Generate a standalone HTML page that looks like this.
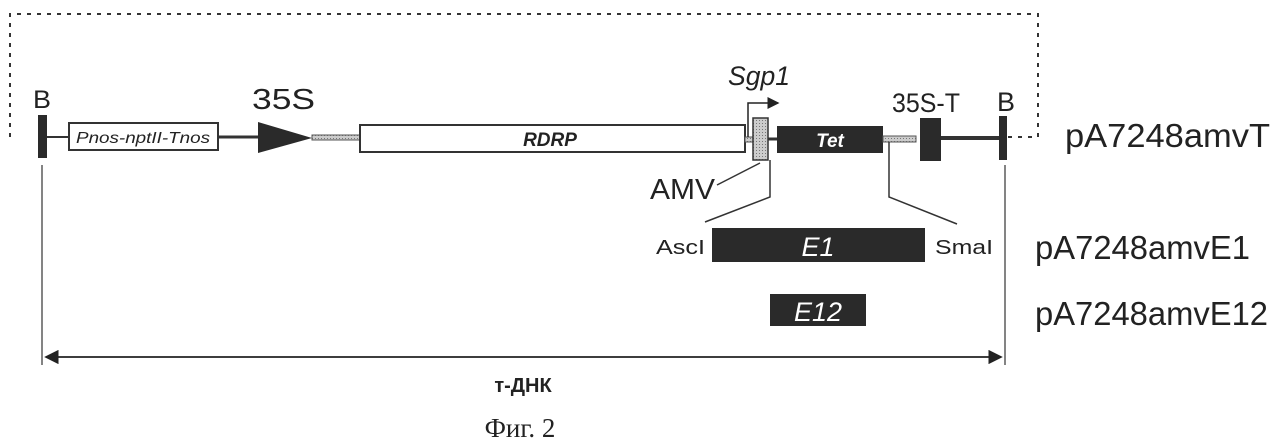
<!DOCTYPE html>
<html><head><meta charset="utf-8"><style>
html,body{margin:0;padding:0;background:#fff;}
svg{display:block;}
text{font-family:"Liberation Sans",Arial,sans-serif;fill:#222;}
</style></head><body>
<svg width="1284" height="448" viewBox="0 0 1284 448" xmlns="http://www.w3.org/2000/svg">
<defs>
<pattern id="h" width="3" height="3" patternUnits="userSpaceOnUse"><rect width="3" height="3" fill="#ccc"/><rect width="1" height="1" fill="#777"/></pattern>
<marker id="ar" markerWidth="8" markerHeight="8" refX="7" refY="4" orient="auto"><path d="M0,0 L8,4 L0,8 z" fill="#222"/></marker>
<marker id="al" markerWidth="8" markerHeight="8" refX="1" refY="4" orient="auto"><path d="M8,0 L0,4 L8,8 z" fill="#222"/></marker>
</defs>
<path d="M10,137 L10,14 L1038,14 L1038,137 L1007,137" fill="none" stroke="#333" stroke-width="2" stroke-dasharray="4,6"/>
<line x1="40" y1="137" x2="68" y2="137" stroke="#333" stroke-width="2"/>
<line x1="218" y1="137" x2="260" y2="137" stroke="#333" stroke-width="3"/>
<line x1="768" y1="139" x2="778" y2="139" stroke="#333" stroke-width="3"/>
<line x1="941" y1="138" x2="1003" y2="138" stroke="#333" stroke-width="4"/>
<rect x="38" y="115" width="9" height="43" fill="#2a2a2a"/>
<text x="33" y="108" font-size="25" textLength="18" lengthAdjust="spacingAndGlyphs">B</text>
<rect x="69" y="123" width="149" height="27" fill="#fff" stroke="#333" stroke-width="2"/>
<text x="76" y="143" font-size="16" font-style="italic" textLength="134" lengthAdjust="spacingAndGlyphs">Pnos-nptII-Tnos</text>
<path d="M258,122 L258,153 L312,138 z" fill="#2a2a2a"/>
<text x="252" y="109" font-size="29" textLength="63" lengthAdjust="spacingAndGlyphs">35S</text>
<rect x="312" y="135" width="48" height="5" fill="url(#h)" stroke="#555" stroke-width="1"/>
<rect x="360" y="125" width="385" height="27" fill="#fff" stroke="#333" stroke-width="2"/>
<text x="550" y="146" font-size="19" font-weight="bold" font-style="italic" text-anchor="middle">RDRP</text>
<rect x="745" y="137" width="9" height="5" fill="url(#h)" stroke="#555" stroke-width="1"/>
<rect x="753" y="118" width="15" height="42" fill="url(#h)" stroke="#333" stroke-width="1.5"/>
<path d="M748,137 L748,103 L778,103" fill="none" stroke="#222" stroke-width="1.5" marker-end="url(#ar)"/>
<text x="728" y="85" font-size="27" font-style="italic" textLength="62" lengthAdjust="spacingAndGlyphs">Sgp1</text>
<text x="650" y="199" font-size="29" textLength="65" lengthAdjust="spacingAndGlyphs">AMV</text>
<line x1="717" y1="185" x2="760" y2="163" stroke="#333" stroke-width="1.5"/>
<rect x="777" y="126" width="106" height="27" fill="#2a2a2a"/>
<text x="830" y="147" font-size="19" font-weight="bold" font-style="italic" text-anchor="middle" style="fill:#fff">Tet</text>
<rect x="883" y="136" width="33" height="6" fill="url(#h)" stroke="#555" stroke-width="1"/>
<rect x="920" y="118" width="21" height="43" fill="#2a2a2a"/>
<text x="892" y="112" font-size="27" textLength="68" lengthAdjust="spacingAndGlyphs">35S-T</text>
<rect x="999" y="116" width="8" height="44" fill="#2a2a2a"/>
<text x="997" y="111" font-size="27" textLength="18" lengthAdjust="spacingAndGlyphs">B</text>
<text x="1065" y="147" font-size="33" textLength="205" lengthAdjust="spacingAndGlyphs">pA7248amvT</text>
<path d="M770,160 L770,197 L705,222" fill="none" stroke="#333" stroke-width="1.5"/>
<path d="M889,142 L889,197 L957,224" fill="none" stroke="#333" stroke-width="1.5"/>
<rect x="712" y="228" width="213" height="34" fill="#2a2a2a"/>
<text x="818" y="256" font-size="27" font-style="italic" text-anchor="middle" style="fill:#fff">E1</text>
<text x="656" y="254" font-size="20" textLength="49" lengthAdjust="spacingAndGlyphs">AscI</text>
<text x="935" y="254" font-size="20" textLength="58" lengthAdjust="spacingAndGlyphs">SmaI</text>
<text x="1035" y="259" font-size="33" textLength="215" lengthAdjust="spacingAndGlyphs">pA7248amvE1</text>
<rect x="770" y="294" width="96" height="32" fill="#2a2a2a"/>
<text x="818" y="321" font-size="27" font-style="italic" text-anchor="middle" style="fill:#fff">E12</text>
<text x="1035" y="325" font-size="33" textLength="233" lengthAdjust="spacingAndGlyphs">pA7248amvE12</text>
<line x1="42" y1="165" x2="42" y2="365" stroke="#333" stroke-width="1.2"/>
<line x1="1005" y1="165" x2="1005" y2="365" stroke="#333" stroke-width="1.2"/>
<line x1="46" y1="357" x2="1001" y2="357" stroke="#222" stroke-width="1.8" marker-start="url(#al)" marker-end="url(#ar)"/>
<text x="523" y="392" font-size="20" font-weight="bold" text-anchor="middle">т-ДНК</text>
<text x="520" y="437" font-size="27" text-anchor="middle" style="font-family:'Liberation Serif',serif">Фиг. 2</text>
</svg>
</body></html>
